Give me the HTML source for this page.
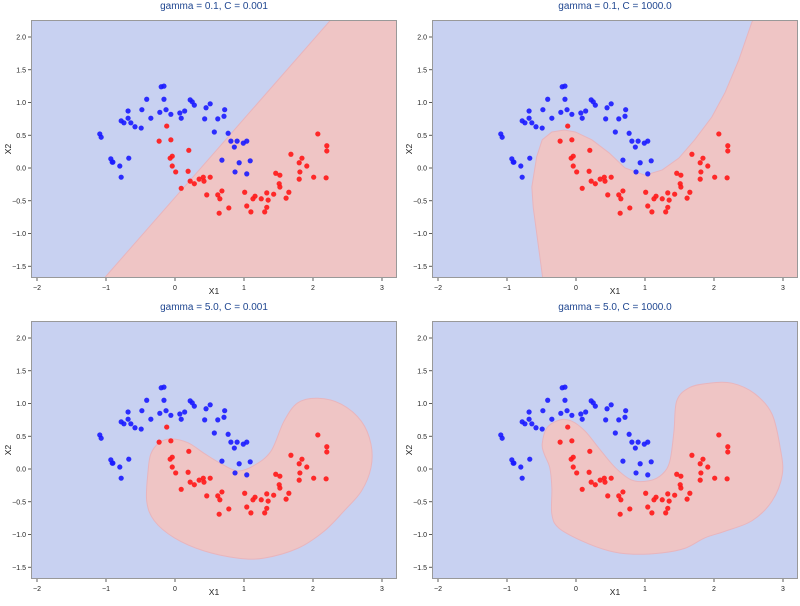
<!DOCTYPE html>
<html><head><meta charset="utf-8"><style>
body{margin:0;background:#fff;font-family:"Liberation Sans",sans-serif;}
svg text{font-family:"Liberation Sans",sans-serif;}
</style></head><body>
<svg id="fig" width="800" height="601" xmlns="http://www.w3.org/2000/svg"></svg>
<script>
const blueX=[-0.20,-0.16,-0.41,-0.16,0.22,0.25,0.28,0.51,0.45,-0.68,-0.48,-0.13,-0.22,-0.06,0.07,0.14,0.72,0.71,0.62,0.43,0.09,-0.35,-0.68,-0.78,-0.74,-0.64,-0.58,-0.49,-1.09,-1.07,0.57,0.77,-0.93,-0.91,-0.90,-0.67,-0.80,-0.78,0.81,0.90,0.99,1.04,0.86,0.68,0.93,1.09,0.87,1.04];
const blueY=[1.24,1.25,1.05,1.05,1.04,1.01,0.96,0.98,0.92,0.87,0.89,0.89,0.85,0.82,0.84,0.87,0.89,0.79,0.75,0.75,0.76,0.76,0.76,0.72,0.69,0.69,0.63,0.61,0.52,0.47,0.55,0.53,0.14,0.09,0.09,0.15,0.03,-0.14,0.41,0.41,0.38,0.41,0.32,0.12,0.08,0.11,-0.06,-0.09];
const redX=[-0.12,-0.23,-0.06,0.20,-0.04,-0.07,-0.04,0.01,0.19,0.09,2.07,2.20,2.20,1.68,1.84,1.80,1.91,1.81,1.46,1.52,2.01,2.19,1.80,1.51,1.52,0.22,0.28,0.35,0.41,0.42,0.51,0.68,0.46,0.62,0.65,1.01,1.16,1.13,1.25,1.33,1.43,1.65,1.61,1.35,1.33,1.30,1.10,1.04,0.78,0.64];
const redY=[0.64,0.41,0.43,0.27,0.18,0.15,0.03,-0.06,-0.05,-0.31,0.52,0.34,0.26,0.21,0.15,0.08,0.03,-0.06,-0.08,-0.11,-0.14,-0.15,-0.17,-0.24,-0.29,-0.20,-0.24,-0.17,-0.14,-0.20,-0.14,-0.35,-0.41,-0.41,-0.47,-0.37,-0.43,-0.47,-0.47,-0.38,-0.40,-0.37,-0.46,-0.49,-0.60,-0.67,-0.67,-0.58,-0.61,-0.69];
const xTicks=[-2,-1,0,1,2,3];
const yTicks=[-1.5,-1.0,-0.5,0.0,0.5,1.0,1.5,2.0];
const titles=["gamma = 0.1, C = 0.001","gamma = 0.1, C = 1000.0","gamma = 5.0, C = 0.001","gamma = 5.0, C = 1000.0"];
const regionTL=[[-1.04,-1.7],[2.29,2.3],[3.3,2.3],[3.3,-1.7]];
const regionTR=[[-0.48,-1.7],[-0.62,-0.60],[-0.64,-0.29],[-0.57,0.17],[-0.49,0.43],[-0.35,0.55],[-0.17,0.58],[-0.01,0.55],[0.23,0.43],[0.48,0.23],[0.71,0],[1.0,-0.11],[1.25,-0.03],[1.49,0.15],[1.72,0.43],[1.97,0.78],[2.16,1.15],[2.36,1.65],[2.55,2.23],[2.6,2.3],[3.3,2.3],[3.3,-1.7]];
const regionBL=[[-0.39,-0.03],[-0.35,0.23],[-0.23,0.40],[-0.06,0.46],[0.19,0.40],[0.42,0.24],[0.67,0.08],[0.91,-0.03],[1.14,0.05],[1.39,0.27],[1.58,0.73],[1.78,1.01],[2.07,1.08],[2.41,0.99],[2.70,0.73],[2.84,0.38],[2.84,0.02],[2.70,-0.34],[2.45,-0.64],[2.16,-0.95],[1.78,-1.21],[1.29,-1.36],[0.91,-1.36],[0.42,-1.25],[-0.01,-1.05],[-0.30,-0.79],[-0.41,-0.49]];
const regionBR=[[-0.49,0.38],[-0.42,0.63],[-0.23,0.75],[-0.06,0.73],[0.13,0.58],[0.33,0.32],[0.57,0.02],[0.81,-0.17],[1.06,-0.18],[1.25,-0.08],[1.36,0.12],[1.42,0.58],[1.46,1.04],[1.64,1.24],[1.93,1.31],[2.26,1.31],[2.59,1.15],[2.84,0.84],[2.96,0.32],[2.99,-0.08],[2.84,-0.49],[2.55,-0.79],[2.16,-0.95],[1.87,-1.05],[1.58,-1.21],[1.25,-1.28],[0.81,-1.30],[0.48,-1.25],[0.09,-1.10],[-0.25,-0.90],[-0.35,-0.69],[-0.35,-0.29],[-0.38,0.02],[-0.46,0.23]];
const panels=[{l:31,t:20,r:regionTL,smooth:false,n:'tl'},{l:432,t:20,r:regionTR,smooth:false,n:'tr'},{l:31,t:321,r:regionBL,smooth:true,n:'bl'},{l:432,t:321,r:regionBR,smooth:true,n:'br'}];
const W=366,H=258,NS="http://www.w3.org/2000/svg";
const svg=document.getElementById('fig');
function mk(tag,attrs,parent){const e=document.createElementNS(NS,tag);for(const k in attrs)e.setAttribute(k,attrs[k]);parent.appendChild(e);return e;}
function sx(v){return 144+69*v;}
function sy(v){return 148-65.5*v;}
function smoothPath(pts){const n=pts.length;let d=`M${pts[0][0]},${pts[0][1]}`;for(let i=0;i<n;i++){const p0=pts[(i-1+n)%n],p1=pts[i],p2=pts[(i+1)%n],p3=pts[(i+2)%n];const c1=[p1[0]+(p2[0]-p0[0])/6,p1[1]+(p2[1]-p0[1])/6],c2=[p2[0]-(p3[0]-p1[0])/6,p2[1]-(p3[1]-p1[1])/6];d+=` C${c1[0]},${c1[1]} ${c2[0]},${c2[1]} ${p2[0]},${p2[1]}`;}return d+'Z';}
panels.forEach((p,pi)=>{
  const g=mk('g',{transform:`translate(${p.l},${p.t})`},svg);
  
  
  mk('defs',{},g).innerHTML=`<clipPath id="c${pi}"><rect x="0" y="0" width="${W}" height="${H}"/></clipPath>`;
  const bg=mk('rect',{x:0,y:0,width:W,height:H,fill:'#c8d1f1'},g);
  
  
  const pts=p.r.map(q=>[sx(q[0]),sy(q[1])]);
  const d=p.smooth?smoothPath(pts):'M'+pts.map(q=>q.join(',')).join(' L')+'Z';
  const reg=mk('path',{d:d,fill:'#efc5c5',stroke:'#e8b5bd','stroke-width':1,'clip-path':`url(#c${pi})`},g);
  
  
  blueX.forEach((x,i)=>{const c=mk('circle',{cx:sx(x),cy:sy(blueY[i]),r:2.6,fill:'#1a1aff','fill-opacity':0.9},g);
    
    });
  redX.forEach((x,i)=>{const c=mk('circle',{cx:sx(x),cy:sy(redY[i]),r:2.6,fill:'#ff1a1a','fill-opacity':0.92},g);
    
    });
  const fr=mk('rect',{x:0.5,y:0.5,width:W-1,height:H-1,fill:'none',stroke:'#999','stroke-width':1},g);
  
  
  xTicks.forEach(v=>{const x=sx(v);mk('line',{x1:x,x2:x,y1:H,y2:H+3,stroke:'#333','stroke-width':0.8},g);
    const t=mk('text',{x:x,y:H+12,'font-size':7,'text-anchor':'middle',fill:'#222'},g);t.textContent=String(v).replace('-','\u2212');
    
    });
  yTicks.forEach(v=>{const y=sy(v);mk('line',{x1:-3,x2:0,y1:y,y2:y,stroke:'#333','stroke-width':0.8},g);
    const t=mk('text',{x:-5,y:y+2.5,'font-size':7,'text-anchor':'end',fill:'#222'},g);t.textContent=v.toFixed(1).replace('-','\u2212');
    
    });
  const tt=mk('text',{x:W/2,y:-11,'font-size':10,'text-anchor':'middle',fill:'#1f4690'},g);tt.textContent=titles[pi];
  
  
  const xl=mk('text',{x:W/2,y:H+16,'font-size':8.5,'text-anchor':'middle',fill:'#222'},g);xl.textContent='X1';
  
  
  const yl=mk('text',{x:0,y:0,'font-size':8.5,'text-anchor':'middle',fill:'#222',transform:`translate(-20,${H/2}) rotate(-90)`},g);yl.textContent='X2';
  
  
});
</script>
</body></html>
